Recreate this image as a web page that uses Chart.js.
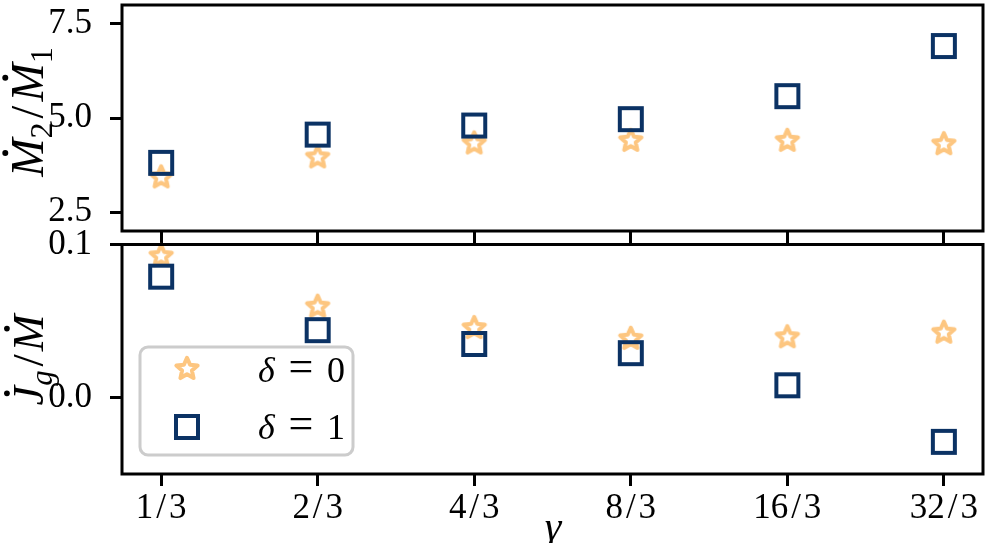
<!DOCTYPE html>
<html>
<head>
<meta charset="utf-8">
<script src="https://cdn.jsdelivr.net/npm/chart.js@4.4.0/dist/chart.umd.min.js"></script>
<style>
  body { margin: 0; background: #fff; }
  #wrap { position: relative; width: 988px; height: 543px; }
  canvas { position: absolute; left: 0; top: 0; }
</style>
</head>
<body>
<div id="wrap">
  <canvas id="topChart" width="988" height="543"></canvas>
  <canvas id="bottomChart" width="988" height="543"></canvas>
</div>
<script>
// données
const gammaLabels = ["1/3", "2/3", "4/3", "8/3", "16/3", "32/3"];
const gammaIdx = [0, 1, 2, 3, 4, 5];
const ratioDelta0 = [3.45, 3.98, 4.35, 4.42, 4.42, 4.33];
const ratioDelta1 = [3.81, 4.56, 4.80, 4.97, 5.58, 6.91];
const jgDelta0 = [0.093, 0.060, 0.046, 0.039, 0.040, 0.043];
const jgDelta1 = [0.079, 0.044, 0.035, 0.029, 0.008, -0.029];
const ratioTicks = [2.5, 5.0, 7.5];
const jgTicks = [0.0, 0.1];
const legendLabels = ["0", "1"];

const navy = "#0b3264";
const orange = "#fdc680";
const serif = "'Liberation Serif', 'DejaVu Serif', serif";

// marqueurs dessinés sur un petit canvas
function makeStar() {
  const c = document.createElement("canvas");
  c.width = 32; c.height = 32;
  const g = c.getContext("2d");
  g.beginPath();
  for (let i = 0; i < 10; i++) {
    const a = -Math.PI / 2 + i * Math.PI / 5;
    const r = i % 2 === 0 ? 11.2 : 5.2;
    const px = 16 + r * Math.cos(a), py = 17 + r * Math.sin(a);
    if (i === 0) g.moveTo(px, py); else g.lineTo(px, py);
  }
  g.closePath();
  g.fillStyle = "#fff";
  g.fill();
  g.lineWidth = 4;
  g.lineJoin = "round";
  g.strokeStyle = orange;
  g.stroke();
  return c;
}
function makeSquare() {
  const c = document.createElement("canvas");
  c.width = 30; c.height = 30;
  const g = c.getContext("2d");
  g.lineWidth = 4;
  g.strokeStyle = navy;
  g.strokeRect(4, 4, 22, 22);
  return c;
}
const starImg = makeStar();
const squareImg = makeSquare();

function pts(ys) {
  return gammaIdx.map((x, i) => ({ x: x, y: ys[i] }));
}

// cadre autour de la zone du graphe
const framePlugin = {
  id: "frame",
  afterDraw(chart) {
    const a = chart.chartArea, ctx = chart.ctx;
    ctx.save();
    ctx.lineWidth = 3;
    ctx.strokeStyle = "#000";
    ctx.strokeRect(a.left, a.top, a.right - a.left, a.bottom - a.top);
    ctx.restore();
  }
};

function mathFont(p, size) {
  const s = p.sub ? size * 0.7 : size;
  return (p.it ? "italic " : "") + s + "px " + serif;
}

// titre vertical avec indices et points
function drawMathLabel(ctx, parts, cx, cy, size) {
  ctx.save();
  ctx.translate(cx, cy);
  ctx.rotate(-Math.PI / 2);
  ctx.fillStyle = "#000";
  ctx.textBaseline = "alphabetic";
  let total = 0;
  parts.forEach(p => {
    ctx.font = mathFont(p, size);
    p.w = ctx.measureText(p.t).width;
    total += p.w + (p.gap || 0);
  });
  let x = -total / 2;
  parts.forEach(p => {
    ctx.font = mathFont(p, size);
    ctx.fillText(p.t, x, p.sub ? size * 0.2 : 0);
    if (p.dot) {
      ctx.beginPath();
      ctx.arc(x + p.w * 0.62, -size * 0.82, size * 0.065, 0, Math.PI * 2);
      ctx.fill();
    }
    x += p.w + (p.gap || 0);
  });
  ctx.restore();
}

function axisTitle(parts, cy, size) {
  return {
    id: "axisTitle",
    afterDraw(chart) {
      drawMathLabel(chart.ctx, parts, 43, cy, size);
    }
  };
}

const legendPlugin = {
  id: "legendBox",
  afterDraw(chart) {
    const ctx = chart.ctx;
    ctx.save();
    ctx.beginPath();
    ctx.roundRect(140, 347, 213, 108, 8);
    ctx.fillStyle = "rgba(255,255,255,0.8)";
    ctx.fill();
    ctx.lineWidth = 3;
    ctx.strokeStyle = "#cccccc";
    ctx.stroke();
    ctx.drawImage(starImg, 187 - 16, 369 - 17);
    ctx.drawImage(squareImg, 187 - 15, 427 - 15);
    ctx.fillStyle = "#000";
    ctx.textBaseline = "alphabetic";
    [382, 439].forEach((base, i) => {
      ctx.font = "italic 36px " + serif;
      ctx.textAlign = "left";
      ctx.fillText("δ", 258, base);
      ctx.font = "44px " + serif;
      ctx.textAlign = "center";
      ctx.fillText("=", 301, base - 1);
      ctx.font = "36px " + serif;
      ctx.textAlign = "right";
      ctx.fillText(legendLabels[i], 345, base);
    });
    ctx.restore();
  }
};

const xLabelPlugin = {
  id: "xLabel",
  afterDraw(chart) {
    const ctx = chart.ctx;
    ctx.save();
    ctx.font = "italic 42px " + serif;
    ctx.fillStyle = "#000";
    ctx.textAlign = "center";
    ctx.textBaseline = "alphabetic";
    ctx.fillText("γ", 553, 540);
    ctx.restore();
  }
};

function xScale(showLabels, height) {
  return {
    type: "linear",
    min: -0.25,
    max: 5.25,
    afterBuildTicks: s => { s.ticks = gammaIdx.map(v => ({ value: v })); },
    afterFit: s => { s.height = height; s.paddingLeft = 0; s.paddingRight = 0; },
    border: { display: false },
    grid: { drawOnChartArea: false, color: "#000", tickLength: 12, tickWidth: 3, lineWidth: 3 },
    ticks: {
      padding: 2,
      color: "#000",
      font: { family: serif, size: 35 },
      maxRotation: 0,
      autoSkip: false,
      callback: v => showLabels ? gammaLabels[v].replace("/", "\u200a/\u200a") : ""
    }
  };
}

function yScale(min, max, tickVals) {
  return {
    type: "linear",
    min: min,
    max: max,
    afterBuildTicks: s => { s.ticks = tickVals.map(v => ({ value: v })); },
    afterFit: s => { s.width = 122; s.paddingTop = 0; s.paddingBottom = 0; },
    border: { display: false },
    grid: { drawOnChartArea: false, color: "#000", tickLength: 12, tickWidth: 3, lineWidth: 3 },
    ticks: {
      padding: 18,
      color: "#000",
      font: { family: serif, size: 35 },
      callback: v => v.toFixed(1)
    }
  };
}

function datasets(ys0, ys1) {
  return [
    { label: "δ = 0", data: pts(ys0), pointStyle: starImg, order: 1, clip: false },
    { label: "δ = 1", data: pts(ys1), pointStyle: squareImg, order: 0, clip: false }
  ];
}

const common = {
  responsive: false,
  animation: false,
  events: [],
  plugins: { legend: { display: false }, tooltip: { enabled: false } }
};

new Chart(document.getElementById("topChart"), {
  type: "scatter",
  data: { datasets: datasets(ratioDelta0, ratioDelta1) },
  options: Object.assign({}, common, {
    layout: { padding: { top: 1.5, right: 3, bottom: 298, left: 0 } },
    scales: { x: xScale(false, 14), y: yScale(2.0, 8.0, ratioTicks) }
  }),
  plugins: [framePlugin, axisTitle([
    { t: "M", it: true, dot: true },
    { t: "2", sub: true, gap: 4 },
    { t: "/", gap: 4 },
    { t: "M", it: true, dot: true },
    { t: "1", sub: true }
  ], 112, 46)]
});

new Chart(document.getElementById("bottomChart"), {
  type: "scatter",
  data: { datasets: datasets(jgDelta0, jgDelta1) },
  options: Object.assign({}, common, {
    layout: { padding: { top: 244.5, right: 3, bottom: 0, left: 0 } },
    scales: { x: xScale(true, 69), y: yScale(-0.05, 0.1, jgTicks) }
  }),
  plugins: [framePlugin, legendPlugin, xLabelPlugin, axisTitle([
    { t: "J", it: true, dot: true },
    { t: "g", it: true, sub: true, gap: 4 },
    { t: "/", gap: 3 },
    { t: "M", it: true, dot: true }
  ], 360, 44)]
});
</script>
</body>
</html>
